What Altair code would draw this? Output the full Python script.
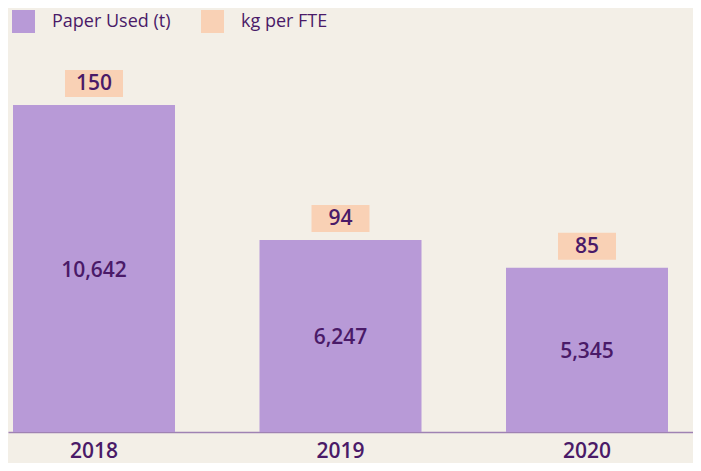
import altair as alt
import pandas as pd

years = ["2018", "2019", "2020"]
paper_used = [10642, 6247, 5345]
kg_per_fte = [150, 94, 85]
series_names = ["Paper Used (t)", "kg per FTE"]

BG = "#f3efe7"
PURPLE = "#b89ad7"
PEACH = "#f9d1b5"
TEXT = "#4a1a68"
FONT = "Open Sans"

df = pd.DataFrame({"year": years, "paper": paper_used, "kg": kg_per_fte})

x = alt.X("year:N", title=None,
          scale=alt.Scale(paddingInner=0.3428, paddingOuter=0.06085, align=0.1667),
          axis=alt.Axis(labelAngle=0, labelFontSize=21, labelColor=TEXT, labelFont=FONT,
                        labelFontWeight=600, labelPadding=8, ticks=False,
                        domainColor="#9f82b3", domainWidth=1.5))
y = alt.Y("paper:Q", scale=alt.Scale(domain=[0, 13800], nice=False), axis=None)
color = alt.Color("series:N", title=None,
                  scale=alt.Scale(domain=series_names, range=[PURPLE, PEACH]),
                  legend=alt.Legend(orient="none", legendX=4, legendY=2, direction="horizontal",
                                    symbolType="square", symbolSize=529, symbolStrokeWidth=0,
                                    labelFontSize=18, labelFont=FONT, labelColor=TEXT,
                                    labelOffset=17, columnPadding=30, padding=0))

base = alt.Chart(df)

bars = base.transform_calculate(series="'Paper Used (t)'").mark_bar().encode(
    x=x, y=y, color=color)

boxes = base.transform_calculate(series="'kg per FTE'").mark_bar(
    width=58, yOffset=-8, y2Offset=-35).encode(
    x=x, y=y, y2="paper:Q", color=color)

box_text = base.mark_text(dy=-21, fontSize=21, font=FONT, fontWeight=600, color=TEXT,
                          baseline="middle").encode(
    x=x, y=y, text="kg:Q")

bar_text = base.transform_calculate(mid="datum.paper / 2").mark_text(
    fontSize=21, font=FONT, fontWeight=600, color=TEXT, baseline="middle", dy=2).encode(
    x=x, y=alt.Y("mid:Q", scale=alt.Scale(domain=[0, 13800], nice=False), axis=None),
    text=alt.Text("paper:Q", format=","))

chart = alt.layer(bars, boxes, box_text, bar_text).properties(
    width=685, height=424,
    autosize=alt.AutoSizeParams(type="none"),
    padding={"left": 0, "top": 0, "right": 0, "bottom": 31},
    background=BG,
).configure_view(stroke=None)

chart.save("out.html", embed_options={"renderer": "svg", "actions": False})
